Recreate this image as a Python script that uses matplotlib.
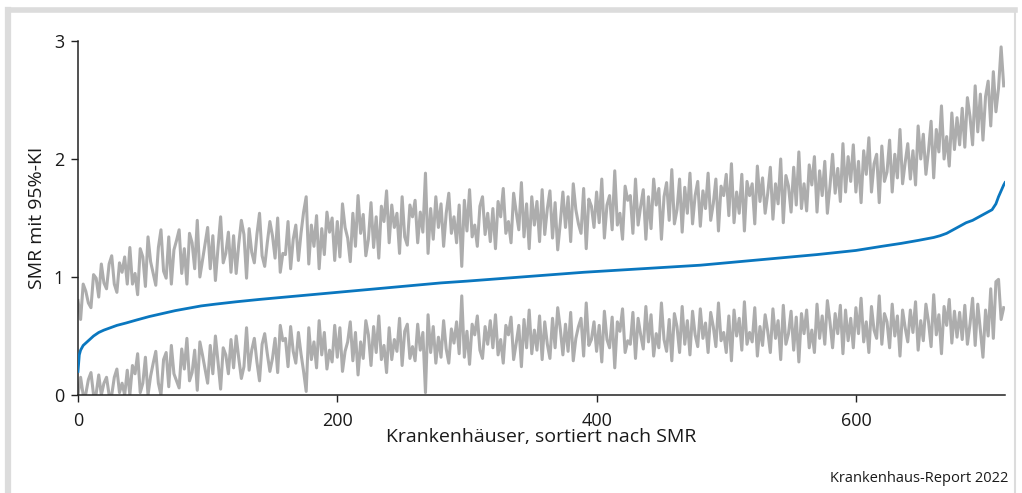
import numpy as np
import matplotlib
matplotlib.use("Agg")
import matplotlib.pyplot as plt
from matplotlib.lines import Line2D

plt.rcParams['font.family'] = ['Open Sans', 'DejaVu Sans']

# hospitals every 2nd rank for the CI bounds
ci_x = list(range(0, 715, 2))

upper = [
    0.80, 0.64, 0.94, 0.88, 0.78, 0.74, 1.02, 0.99, 0.83, 1.11, 0.95, 0.90, 1.11, 1.18, 0.94, 0.87, 1.12, 1.04, 1.17, 0.94,
    1.25, 0.94, 1.03, 0.85, 1.24, 1.17, 0.92, 1.34, 1.13, 1.03, 0.93, 1.25, 1.40, 1.05, 0.99, 1.34, 0.94, 1.23, 1.31, 1.40,
    1.03, 1.24, 0.94, 1.37, 1.29, 1.07, 1.48, 1.00, 1.14, 1.28, 1.42, 1.07, 1.35, 0.97, 1.25, 1.51, 1.12, 1.20, 1.38, 1.04,
    1.35, 1.03, 1.28, 1.48, 1.36, 0.99, 1.41, 1.21, 1.12, 1.36, 1.54, 1.18, 1.09, 1.29, 1.47, 1.35, 1.16, 1.50, 1.04, 1.20,
    1.19, 1.47, 1.07, 1.32, 1.44, 1.14, 1.37, 1.55, 1.68, 1.11, 1.44, 1.26, 1.52, 1.07, 1.41, 1.19, 1.55, 1.38, 1.50, 1.14,
    1.47, 1.17, 1.62, 1.42, 1.33, 1.13, 1.54, 1.26, 1.69, 1.37, 1.53, 1.18, 1.32, 1.63, 1.25, 1.51, 1.16, 1.60, 1.47, 1.73,
    1.29, 1.61, 1.42, 1.54, 1.20, 1.68, 1.34, 1.27, 1.61, 1.51, 1.65, 1.29, 1.55, 1.38, 1.88, 1.20, 1.58, 1.32, 1.68, 1.42,
    1.62, 1.26, 1.54, 1.71, 1.37, 1.51, 1.29, 1.61, 1.09, 1.65, 1.39, 1.74, 1.34, 1.44, 1.26, 1.60, 1.68, 1.36, 1.54, 1.30,
    1.58, 1.24, 1.64, 1.51, 1.75, 1.37, 1.47, 1.29, 1.71, 1.55, 1.40, 1.80, 1.34, 1.62, 1.24, 1.68, 1.44, 1.64, 1.30, 1.74,
    1.36, 1.58, 1.73, 1.33, 1.63, 1.23, 1.46, 1.72, 1.42, 1.68, 1.30, 1.79, 1.57, 1.45, 1.37, 1.75, 1.24, 1.66, 1.60, 1.42,
    1.72, 1.46, 1.83, 1.33, 1.61, 1.69, 1.40, 1.90, 1.44, 1.54, 1.32, 1.77, 1.65, 1.69, 1.37, 1.83, 1.44, 1.60, 1.74, 1.32,
    1.68, 1.41, 1.83, 1.61, 1.75, 1.32, 1.68, 1.80, 1.48, 1.91, 1.45, 1.57, 1.83, 1.38, 1.76, 1.54, 1.88, 1.45, 1.69, 1.81,
    1.43, 1.73, 1.58, 1.88, 1.48, 1.62, 1.83, 1.39, 1.77, 1.69, 1.87, 1.52, 1.96, 1.46, 1.72, 1.54, 1.87, 1.39, 1.81, 1.69,
    1.79, 1.45, 1.94, 1.64, 1.84, 1.54, 1.71, 1.93, 1.49, 1.79, 1.62, 2.00, 1.46, 1.86, 1.77, 1.55, 1.93, 1.61, 2.06, 1.58,
    1.79, 1.56, 1.95, 1.78, 2.02, 1.55, 1.90, 1.69, 1.98, 1.54, 1.77, 2.04, 1.71, 1.92, 1.64, 2.13, 1.72, 2.02, 1.81, 2.12,
    1.72, 1.98, 1.63, 2.07, 1.87, 2.18, 1.72, 1.96, 2.04, 1.63, 2.11, 1.81, 1.89, 2.16, 1.72, 2.04, 1.84, 2.25, 1.79, 1.97,
    2.13, 1.83, 2.07, 1.78, 2.28, 2.00, 2.21, 1.87, 2.07, 2.32, 1.84, 2.25, 2.06, 2.45, 2.00, 2.19, 1.94, 2.39, 2.08, 2.35,
    2.12, 2.43, 2.10, 2.52, 2.36, 2.12, 2.62, 2.23, 2.55, 2.16, 2.53, 2.66, 2.28, 2.74, 2.40, 2.60, 2.95, 2.62,
]

lower = [
    0.00, 0.15, 0.00, 0.01, 0.13, 0.19, 0.00, 0.01, 0.17, 0.00, 0.10, 0.15, 0.00, 0.00, 0.15, 0.22, 0.02, 0.10, 0.00, 0.21,
    0.00, 0.25, 0.18, 0.35, 0.02, 0.10, 0.32, 0.00, 0.16, 0.27, 0.37, 0.10, 0.00, 0.30, 0.36, 0.07, 0.42, 0.18, 0.12, 0.06,
    0.39, 0.22, 0.48, 0.12, 0.19, 0.38, 0.04, 0.45, 0.34, 0.22, 0.10, 0.42, 0.18, 0.50, 0.28, 0.05, 0.40, 0.34, 0.18, 0.47,
    0.23, 0.50, 0.31, 0.14, 0.24, 0.57, 0.21, 0.38, 0.48, 0.28, 0.12, 0.43, 0.52, 0.35, 0.20, 0.31, 0.48, 0.19, 0.59, 0.46,
    0.48, 0.24, 0.58, 0.37, 0.27, 0.53, 0.35, 0.20, 0.03, 0.57, 0.30, 0.45, 0.23, 0.63, 0.34, 0.53, 0.22, 0.38, 0.28, 0.59,
    0.32, 0.57, 0.20, 0.37, 0.45, 0.62, 0.29, 0.53, 0.17, 0.45, 0.31, 0.63, 0.51, 0.25, 0.58, 0.36, 0.67, 0.30, 0.42, 0.19,
    0.57, 0.30, 0.47, 0.37, 0.65, 0.25, 0.54, 0.60, 0.31, 0.41, 0.29, 0.60, 0.38, 0.53, 0.02, 0.68, 0.36, 0.58, 0.27, 0.49,
    0.32, 0.63, 0.39, 0.27, 0.56, 0.44, 0.62, 0.35, 0.84, 0.32, 0.54, 0.26, 0.60, 0.51, 0.67, 0.38, 0.31, 0.58, 0.43, 0.63,
    0.40, 0.68, 0.34, 0.47, 0.27, 0.59, 0.51, 0.66, 0.30, 0.44, 0.59, 0.24, 0.64, 0.40, 0.72, 0.35, 0.55, 0.38, 0.67, 0.30,
    0.62, 0.43, 0.31, 0.65, 0.40, 0.74, 0.56, 0.34, 0.60, 0.37, 0.70, 0.29, 0.48, 0.58, 0.65, 0.33, 0.78, 0.42, 0.47, 0.62,
    0.37, 0.59, 0.28, 0.71, 0.47, 0.40, 0.66, 0.23, 0.62, 0.54, 0.73, 0.36, 0.46, 0.43, 0.70, 0.31, 0.65, 0.51, 0.39, 0.75,
    0.45, 0.68, 0.33, 0.52, 0.40, 0.78, 0.47, 0.37, 0.64, 0.29, 0.69, 0.58, 0.36, 0.75, 0.43, 0.63, 0.34, 0.71, 0.51, 0.41,
    0.73, 0.48, 0.61, 0.36, 0.70, 0.58, 0.41, 0.78, 0.46, 0.53, 0.36, 0.67, 0.29, 0.72, 0.50, 0.65, 0.38, 0.79, 0.43, 0.53,
    0.45, 0.74, 0.33, 0.58, 0.42, 0.68, 0.54, 0.36, 0.73, 0.48, 0.63, 0.30, 0.76, 0.43, 0.52, 0.71, 0.38, 0.66, 0.28, 0.69,
    0.52, 0.72, 0.40, 0.55, 0.36, 0.77, 0.48, 0.67, 0.43, 0.80, 0.62, 0.40, 0.69, 0.52, 0.76, 0.35, 0.72, 0.46, 0.65, 0.40,
    0.74, 0.52, 0.82, 0.45, 0.62, 0.36, 0.75, 0.55, 0.48, 0.84, 0.43, 0.69, 0.62, 0.40, 0.77, 0.50, 0.67, 0.33, 0.72, 0.57,
    0.45, 0.72, 0.53, 0.79, 0.38, 0.63, 0.46, 0.77, 0.62, 0.41, 0.85, 0.51, 0.68, 0.35, 0.75, 0.59, 0.81, 0.44, 0.71, 0.49,
    0.70, 0.47, 0.76, 0.43, 0.60, 0.82, 0.42, 0.77, 0.55, 0.32, 0.72, 0.50, 0.90, 0.48, 0.96, 0.98, 0.64, 0.74,
]

# sorted SMR (blue line)
smr_x = [0, 1, 2, 4, 8, 12, 16, 20, 25, 30, 37, 45, 55, 65, 75, 85, 95, 106, 122, 140,
         160, 180, 200, 220, 240, 260, 280, 300, 330, 360, 390, 420, 450, 480, 510, 540, 570, 600, 620, 635,
         648, 660, 665, 670, 675, 680, 685, 690, 695, 700, 705, 708, 710, 712, 714, 715]
smr = [0.20, 0.34, 0.38, 0.42, 0.46, 0.50, 0.53, 0.55, 0.57, 0.59, 0.61, 0.635, 0.665, 0.69, 0.715, 0.735, 0.755, 0.77, 0.79, 0.81,
       0.83, 0.85, 0.87, 0.89, 0.91, 0.93, 0.95, 0.965, 0.99, 1.015, 1.04, 1.06, 1.08, 1.10, 1.13, 1.16, 1.19, 1.225, 1.26, 1.285,
       1.31, 1.335, 1.35, 1.37, 1.40, 1.43, 1.46, 1.48, 1.51, 1.54, 1.57, 1.62, 1.68, 1.73, 1.78, 1.80]

xticks = [0, 200, 400, 600]
yticks = [0, 1, 2, 3]

fig = plt.figure(figsize=(10.22, 4.93), dpi=100)
ax = fig.add_axes([78 / 1022, 1 - 395 / 493, 927 / 1022, 354 / 493])

gray = '#adadad'
ax.plot(ci_x, upper, color=gray, lw=2.2, zorder=2)
ax.plot(ci_x, lower, color=gray, lw=2.2, zorder=2)
ax.plot(smr_x, smr, color='#0a77bf', lw=2.0, zorder=3)

ax.set_xlim(0, 715)
ax.set_ylim(0, 3)
ax.set_xticks(xticks)
ax.set_yticks(yticks)
for s in ['top', 'right']:
    ax.spines[s].set_visible(False)
for s in ['left', 'bottom']:
    ax.spines[s].set_color('#222222')
    ax.spines[s].set_linewidth(1.1)
ax.tick_params(axis='both', direction='out', length=5, width=1, color='#222222',
               labelsize=13, labelcolor='#1a1a1a')
ax.tick_params(axis='x', pad=7)
ax.tick_params(axis='y', pad=5)

ax.set_xlabel('Krankenhäuser, sortiert nach SMR', fontsize=14, color='#1a1a1a')
ax.set_ylabel('SMR mit 95%-KI', fontsize=14, color='#1a1a1a')
ax.xaxis.set_label_coords(0.5, -0.093)
ax.yaxis.set_label_coords(-0.035, 0.5)

fig.text(1008 / 1022, 1 - 482 / 493, 'Krankenhaus-Report 2022', ha='right', va='baseline',
         fontsize=10.5, color='#1a1a1a')

# light gray frame around the figure
frame = '#dcdcdc'
fig.add_artist(Line2D([8 / 1022, 8 / 1022], [-0.1, 1 - 9.5 / 493], transform=fig.transFigure, color=frame, lw=4.5))
fig.add_artist(Line2D([8 / 1022, 1015 / 1022], [1 - 9.5 / 493, 1 - 9.5 / 493], transform=fig.transFigure, color=frame, lw=4))
fig.add_artist(Line2D([1015 / 1022, 1015 / 1022], [-0.1, 1 - 9.5 / 493], transform=fig.transFigure, color=frame, lw=1.5))

fig.savefig('out.png', dpi=100)
